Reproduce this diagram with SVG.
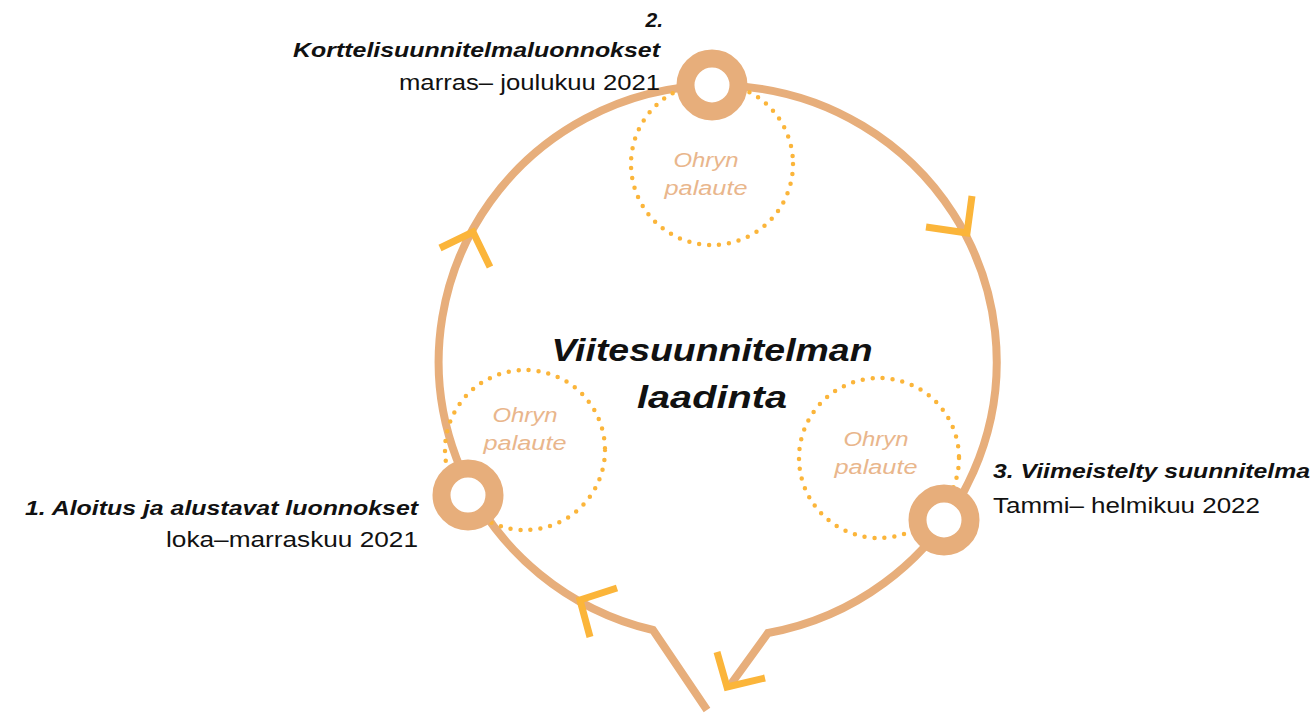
<svg xmlns="http://www.w3.org/2000/svg" width="1315" height="713" viewBox="0 0 1315 713">
<style>
.cyc{fill:none;stroke:#E7AE7B;stroke-width:8;stroke-linejoin:miter}
.arr{fill:none;stroke:#FBB53A;stroke-width:7;stroke-linejoin:miter;stroke-linecap:butt}
.dot{fill:none;stroke:#FBB53A;stroke-width:4.5;stroke-linecap:round;stroke-dasharray:0 10}
.ring{fill:#fff;stroke:#E7AE7B;stroke-width:18}
.fb{font-family:"Liberation Sans",Arial,sans-serif;font-style:italic;font-size:20px;fill:#E9B68C;text-anchor:middle}
.h{font-family:"Liberation Sans",Arial,sans-serif;font-style:italic;font-weight:bold;font-size:21px;fill:#111}
.d{font-family:"Liberation Sans",Arial,sans-serif;font-size:22px;fill:#111}
.t{font-family:"Liberation Sans",Arial,sans-serif;font-style:italic;font-weight:bold;font-size:32px;fill:#111;text-anchor:middle}
</style>
<rect width="1315" height="713" fill="#fff"/>
<g id="connectors">
<path class="cyc" d="M 707 710 L 653 630 A 279 276 0 1 1 768 633 L 731 684"/>
<path class="arr" d="M 926 227 L 967 233 L 972 196"/>
<path class="arr" d="M 440 248 L 473 232 L 490 267"/>
<path class="arr" d="M 617 588 L 580 600 L 590 637"/>
<path class="arr" d="M 717 652 L 727 687 L 765 678"/>
</g>
<g id="feedback2">
<circle class="dot" cx="712" cy="164" r="81"/>
<text class="fb" x="706" y="167" textLength="65" lengthAdjust="spacingAndGlyphs">Ohryn</text>
<text class="fb" x="706" y="195" textLength="83" lengthAdjust="spacingAndGlyphs">palaute</text>
</g>
<g id="feedback1">
<circle class="dot" cx="525" cy="450" r="80"/>
<text class="fb" x="525" y="422" textLength="65" lengthAdjust="spacingAndGlyphs">Ohryn</text>
<text class="fb" x="525" y="450" textLength="83" lengthAdjust="spacingAndGlyphs">palaute</text>
</g>
<g id="feedback3">
<circle class="dot" cx="879" cy="458" r="80"/>
<text class="fb" x="876" y="446" textLength="65" lengthAdjust="spacingAndGlyphs">Ohryn</text>
<text class="fb" x="876" y="474" textLength="83" lengthAdjust="spacingAndGlyphs">palaute</text>
</g>
<g id="node2">
<circle class="ring" cx="712" cy="85" r="26.5"/>
<text class="h" x="663" y="27" text-anchor="end">2.</text>
<text class="h" x="293" y="57" textLength="367" lengthAdjust="spacingAndGlyphs">Korttelisuunnitelmaluonnokset</text>
<text class="d" x="399" y="90" textLength="261" lengthAdjust="spacingAndGlyphs">marras– joulukuu 2021</text>
</g>
<g id="node1">
<circle class="ring" cx="468" cy="495" r="26.5"/>
<text class="h" x="25" y="515" textLength="393" lengthAdjust="spacingAndGlyphs">1. Aloitus ja alustavat luonnokset</text>
<text class="d" x="166" y="547" textLength="252" lengthAdjust="spacingAndGlyphs">loka–marraskuu 2021</text>
</g>
<g id="node3">
<circle class="ring" cx="944" cy="520" r="26.5"/>
<text class="h" x="993" y="478" textLength="317" lengthAdjust="spacingAndGlyphs">3. Viimeistelty suunnitelma</text>
<text class="d" x="993" y="513" textLength="267" lengthAdjust="spacingAndGlyphs">Tammi– helmikuu 2022</text>
</g>
<g id="title">
<text class="t" x="712" y="361" textLength="321" lengthAdjust="spacingAndGlyphs">Viitesuunnitelman</text>
<text class="t" x="712" y="408" textLength="150" lengthAdjust="spacingAndGlyphs">laadinta</text>
</g>
</svg>
